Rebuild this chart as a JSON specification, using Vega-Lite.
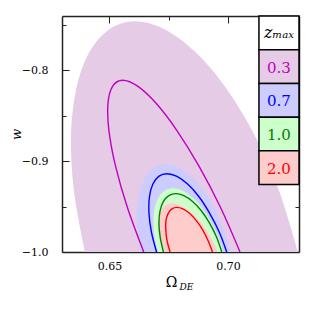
{
  "$schema": "https://vega.github.io/schema/vega-lite/v6.json",
  "width": 237,
  "height": 236,
  "autosize": "none",
  "padding": {"left": 62, "top": 16, "right": 16, "bottom": 63},
  "background": "white",
  "config": {
    "view": {"stroke": null},
    "font": "DejaVu Serif",
    "text": {"font": "DejaVu Serif"},
    "axis": {"grid": false, "domainColor": "#222", "domainWidth": 1.5, "tickColor": "#222", "tickWidth": 1, "labelFont": "DejaVu Serif", "labelFontSize": 11, "labelColor": "#000", "titleFont": "DejaVu Serif", "titleFontWeight": "normal", "titleColor": "#000", "zindex": 1}
  },
  "data": {"name": "c"},
  "datasets": {
    "c": [
      {"s":"0.3","k":"f","i":0,"x":0.7295,"y":-1},{"s":"0.3","k":"f","i":1,"x":0.7218,"y":-0.9342},{"s":"0.3","k":"f","i":2,"x":0.7116,"y":-0.8729},{"s":"0.3","k":"f","i":3,"x":0.6995,"y":-0.8203},{"s":"0.3","k":"f","i":4,"x":0.6864,"y":-0.7799},{"s":"0.3","k":"f","i":5,"x":0.6732,"y":-0.7545},{"s":"0.3","k":"f","i":6,"x":0.6608,"y":-0.7458},{"s":"0.3","k":"f","i":7,"x":0.6500,"y":-0.7545},{"s":"0.3","k":"f","i":8,"x":0.6415,"y":-0.7799},{"s":"0.3","k":"f","i":9,"x":0.6360,"y":-0.8203},{"s":"0.3","k":"f","i":10,"x":0.6338,"y":-0.8729},{"s":"0.3","k":"f","i":11,"x":0.6351,"y":-0.9342},{"s":"0.3","k":"f","i":12,"x":0.6397,"y":-1},
      {"s":"0.7","k":"f","i":0,"x":0.7009,"y":-1},{"s":"0.7","k":"f","i":1,"x":0.6981,"y":-0.9750},{"s":"0.7","k":"f","i":2,"x":0.6943,"y":-0.9517},{"s":"0.7","k":"f","i":3,"x":0.6896,"y":-0.9317},{"s":"0.7","k":"f","i":4,"x":0.6844,"y":-0.9163},{"s":"0.7","k":"f","i":5,"x":0.6790,"y":-0.9067},{"s":"0.7","k":"f","i":6,"x":0.6739,"y":-0.9034},{"s":"0.7","k":"f","i":7,"x":0.6693,"y":-0.9067},{"s":"0.7","k":"f","i":8,"x":0.6656,"y":-0.9163},{"s":"0.7","k":"f","i":9,"x":0.6630,"y":-0.9317},{"s":"0.7","k":"f","i":10,"x":0.6617,"y":-0.9517},{"s":"0.7","k":"f","i":11,"x":0.6618,"y":-0.9750},{"s":"0.7","k":"f","i":12,"x":0.6633,"y":-1},
      {"s":"1.0","k":"f","i":0,"x":0.6981,"y":-1},{"s":"1.0","k":"f","i":1,"x":0.6957,"y":-0.9818},{"s":"1.0","k":"f","i":2,"x":0.6925,"y":-0.9649},{"s":"1.0","k":"f","i":3,"x":0.6888,"y":-0.9504},{"s":"1.0","k":"f","i":4,"x":0.6847,"y":-0.9392},{"s":"1.0","k":"f","i":5,"x":0.6807,"y":-0.9322},{"s":"1.0","k":"f","i":6,"x":0.6768,"y":-0.9298},{"s":"1.0","k":"f","i":7,"x":0.6735,"y":-0.9322},{"s":"1.0","k":"f","i":8,"x":0.6709,"y":-0.9392},{"s":"1.0","k":"f","i":9,"x":0.6692,"y":-0.9504},{"s":"1.0","k":"f","i":10,"x":0.6686,"y":-0.9649},{"s":"1.0","k":"f","i":11,"x":0.6690,"y":-0.9818},{"s":"1.0","k":"f","i":12,"x":0.6705,"y":-1},
      {"s":"2.0","k":"f","i":0,"x":0.6958,"y":-1},{"s":"2.0","k":"f","i":1,"x":0.6933,"y":-0.9861},{"s":"2.0","k":"f","i":2,"x":0.6902,"y":-0.9732},{"s":"2.0","k":"f","i":3,"x":0.6867,"y":-0.9620},{"s":"2.0","k":"f","i":4,"x":0.6831,"y":-0.9535},{"s":"2.0","k":"f","i":5,"x":0.6795,"y":-0.9481},{"s":"2.0","k":"f","i":6,"x":0.6764,"y":-0.9463},{"s":"2.0","k":"f","i":7,"x":0.6738,"y":-0.9481},{"s":"2.0","k":"f","i":8,"x":0.6719,"y":-0.9535},{"s":"2.0","k":"f","i":9,"x":0.6709,"y":-0.9620},{"s":"2.0","k":"f","i":10,"x":0.6708,"y":-0.9732},{"s":"2.0","k":"f","i":11,"x":0.6717,"y":-0.9861},{"s":"2.0","k":"f","i":12,"x":0.6734,"y":-1},
      {"s":"0.3","k":"l","i":0,"x":0.7051,"y":-1},{"s":"0.3","k":"l","i":1,"x":0.6969,"y":-0.9510},{"s":"0.3","k":"l","i":2,"x":0.6878,"y":-0.9054},{"s":"0.3","k":"l","i":3,"x":0.6785,"y":-0.8662},{"s":"0.3","k":"l","i":4,"x":0.6697,"y":-0.8362},{"s":"0.3","k":"l","i":5,"x":0.6619,"y":-0.8173},{"s":"0.3","k":"l","i":6,"x":0.6556,"y":-0.8108},{"s":"0.3","k":"l","i":7,"x":0.6514,"y":-0.8173},{"s":"0.3","k":"l","i":8,"x":0.6494,"y":-0.8362},{"s":"0.3","k":"l","i":9,"x":0.6498,"y":-0.8662},{"s":"0.3","k":"l","i":10,"x":0.6526,"y":-0.9054},{"s":"0.3","k":"l","i":11,"x":0.6576,"y":-0.9510},{"s":"0.3","k":"l","i":12,"x":0.6645,"y":-1},
      {"s":"0.7","k":"l","i":0,"x":0.6995,"y":-1},{"s":"0.7","k":"l","i":1,"x":0.6963,"y":-0.9777},{"s":"0.7","k":"l","i":2,"x":0.6922,"y":-0.9569},{"s":"0.7","k":"l","i":3,"x":0.6878,"y":-0.9391},{"s":"0.7","k":"l","i":4,"x":0.6831,"y":-0.9254},{"s":"0.7","k":"l","i":5,"x":0.6785,"y":-0.9167},{"s":"0.7","k":"l","i":6,"x":0.6743,"y":-0.9138},{"s":"0.7","k":"l","i":7,"x":0.6708,"y":-0.9167},{"s":"0.7","k":"l","i":8,"x":0.6683,"y":-0.9254},{"s":"0.7","k":"l","i":9,"x":0.6669,"y":-0.9391},{"s":"0.7","k":"l","i":10,"x":0.6667,"y":-0.9569},{"s":"0.7","k":"l","i":11,"x":0.6677,"y":-0.9777},{"s":"0.7","k":"l","i":12,"x":0.6699,"y":-1},
      {"s":"1.0","k":"l","i":0,"x":0.6974,"y":-1},{"s":"1.0","k":"l","i":1,"x":0.6952,"y":-0.9834},{"s":"1.0","k":"l","i":2,"x":0.6922,"y":-0.9679},{"s":"1.0","k":"l","i":3,"x":0.6888,"y":-0.9545},{"s":"1.0","k":"l","i":4,"x":0.6851,"y":-0.9443},{"s":"1.0","k":"l","i":5,"x":0.6814,"y":-0.9379},{"s":"1.0","k":"l","i":6,"x":0.6780,"y":-0.9357},{"s":"1.0","k":"l","i":7,"x":0.6751,"y":-0.9379},{"s":"1.0","k":"l","i":8,"x":0.6728,"y":-0.9443},{"s":"1.0","k":"l","i":9,"x":0.6714,"y":-0.9545},{"s":"1.0","k":"l","i":10,"x":0.6709,"y":-0.9679},{"s":"1.0","k":"l","i":11,"x":0.6714,"y":-0.9834},{"s":"1.0","k":"l","i":12,"x":0.6728,"y":-1},
      {"s":"2.0","k":"l","i":0,"x":0.6935,"y":-1},{"s":"2.0","k":"l","i":1,"x":0.6916,"y":-0.9873},{"s":"2.0","k":"l","i":2,"x":0.6893,"y":-0.9754},{"s":"2.0","k":"l","i":3,"x":0.6866,"y":-0.9652},{"s":"2.0","k":"l","i":4,"x":0.6838,"y":-0.9574},{"s":"2.0","k":"l","i":5,"x":0.6810,"y":-0.9525},{"s":"2.0","k":"l","i":6,"x":0.6785,"y":-0.9508},{"s":"2.0","k":"l","i":7,"x":0.6764,"y":-0.9525},{"s":"2.0","k":"l","i":8,"x":0.6748,"y":-0.9574},{"s":"2.0","k":"l","i":9,"x":0.6739,"y":-0.9652},{"s":"2.0","k":"l","i":10,"x":0.6738,"y":-0.9754},{"s":"2.0","k":"l","i":11,"x":0.6743,"y":-0.9873},{"s":"2.0","k":"l","i":12,"x":0.6756,"y":-1}
    ],
    "t": [
      {"label": "zₘₐₓ"}, {"label": "0.3"}, {"label": "0.7"}, {"label": "1.0"}, {"label": "2.0"}
    ]
  },
  "layer": [
    {
      "transform": [{"filter": "datum.k == 'f' && datum.s == '0.3'"}],
      "mark": {"type": "line", "fill": "#e5cbe5", "strokeWidth": 0, "interpolate": "cardinal", "clip": true},
      "encoding": {
        "x": {"field": "x", "type": "quantitative", "scale": {"domain": [0.63, 0.73], "nice": false, "zero": false},
          "axis": {"orient": "bottom", "values": [0.65, 0.675, 0.7, 0.725],
            "labelExpr": "(datum.value < 0.66 || (datum.value > 0.69 && datum.value < 0.71)) ? format(datum.value, '.2f') : ''",
            "tickSize": {"condition": {"test": "(datum.value > 0.67 && datum.value < 0.68) || datum.value > 0.72", "value": -4}, "value": -7},
            "labelPadding": 15, "labelFlush": false, "labelFont": "DejaVu Serif", "labelFontSize": 11,
            "title": "Ω", "titleFont": "DejaVu Serif", "titleFontSize": 14, "titleX": 109, "titleY": 34, "titleAlign": "center", "titleBaseline": "alphabetic"}},
        "y": {"field": "y", "type": "quantitative", "scale": {"domain": [-1, -0.74], "nice": false, "zero": false},
          "axis": {"orient": "left", "values": [-1, -0.95, -0.9, -0.85, -0.8, -0.75],
            "labelExpr": "abs(datum.value * 10 - round(datum.value * 10)) < 0.1 ? format(datum.value, '.1f') : ''",
            "tickSize": {"condition": {"test": "abs(datum.value * 10 - round(datum.value * 10)) > 0.1", "value": -4}, "value": -7},
            "labelPadding": 21, "labelFlush": false, "labelFont": "DejaVu Serif", "labelFontSize": 11,
            "title": "w", "titleFont": "DejaVu Serif", "titleFontStyle": "italic", "titleFontSize": 13, "titleX": -42, "titleY": 118, "titleAlign": "center", "titleBaseline": "alphabetic", "titleAngle": -90}},
        "order": {"field": "i", "type": "quantitative"}
      }
    },
    {
      "transform": [{"filter": "datum.k == 'f' && datum.s == '0.7'"}],
      "mark": {"type": "line", "fill": "#ccccff", "strokeWidth": 0, "interpolate": "cardinal", "clip": true},
      "encoding": {
        "x": {"field": "x", "type": "quantitative", "scale": {"domain": [0.63, 0.73], "nice": false, "zero": false}, "axis": null},
        "y": {"field": "y", "type": "quantitative", "scale": {"domain": [-1, -0.74], "nice": false, "zero": false}, "axis": null},
        "order": {"field": "i", "type": "quantitative"}
      }
    },
    {
      "transform": [{"filter": "datum.k == 'f' && datum.s == '1.0'"}],
      "mark": {"type": "line", "fill": "#ccffcc", "strokeWidth": 0, "interpolate": "cardinal", "clip": true},
      "encoding": {
        "x": {"field": "x", "type": "quantitative", "scale": {"domain": [0.63, 0.73], "nice": false, "zero": false}, "axis": null},
        "y": {"field": "y", "type": "quantitative", "scale": {"domain": [-1, -0.74], "nice": false, "zero": false}, "axis": null},
        "order": {"field": "i", "type": "quantitative"}
      }
    },
    {
      "transform": [{"filter": "datum.k == 'f' && datum.s == '2.0'"}],
      "mark": {"type": "line", "fill": "#ffcccc", "strokeWidth": 0, "interpolate": "cardinal", "clip": true},
      "encoding": {
        "x": {"field": "x", "type": "quantitative", "scale": {"domain": [0.63, 0.73], "nice": false, "zero": false}, "axis": null},
        "y": {"field": "y", "type": "quantitative", "scale": {"domain": [-1, -0.74], "nice": false, "zero": false}, "axis": null},
        "order": {"field": "i", "type": "quantitative"}
      }
    },
    {
      "transform": [{"filter": "datum.k == 'l'"}],
      "mark": {"type": "line", "strokeWidth": 1.4, "interpolate": "cardinal", "clip": true},
      "encoding": {
        "x": {"field": "x", "type": "quantitative", "scale": {"domain": [0.63, 0.73], "nice": false, "zero": false},
          "axis": {"orient": "top", "values": [0.65, 0.675, 0.7, 0.725], "labels": false,
            "tickSize": {"condition": {"test": "(datum.value > 0.67 && datum.value < 0.68) || datum.value > 0.72", "value": -4}, "value": -7},
            "title": "DE", "titleFont": "DejaVu Serif", "titleFontStyle": "italic", "titleFontSize": 9, "titleX": 124, "titleY": 273, "titleAlign": "center", "titleBaseline": "alphabetic", "titleAngle": 0}},
        "y": {"field": "y", "type": "quantitative", "scale": {"domain": [-1, -0.74], "nice": false, "zero": false},
          "axis": {"orient": "right", "values": [-1, -0.95, -0.9, -0.85, -0.8, -0.75], "labels": false,
            "tickSize": {"condition": {"test": "abs(datum.value * 10 - round(datum.value * 10)) > 0.1", "value": -4}, "value": -7},
            "title": null}},
        "detail": {"field": "s", "type": "nominal"},
        "order": {"field": "i", "type": "quantitative"},
        "color": {"field": "s", "type": "nominal", "scale": {"domain": ["zₘₐₓ", "0.3", "0.7", "1.0", "2.0"], "range": ["#000000", "#c000c0", "#0000ff", "#008000", "#ff0000"]}, "legend": null}
      }
    },
    {
      "data": {"name": "t"},
      "mark": {"type": "rect", "stroke": "#000", "strokeWidth": 1.5},
      "encoding": {
        "x": {"datum": 0.7131, "type": "quantitative", "scale": {"domain": [0.63, 0.73], "nice": false, "zero": false}, "axis": null},
        "x2": {"datum": 0.73},
        "y": {"field": "label", "type": "nominal", "sort": null, "scale": {"type": "band", "domain": ["zₘₐₓ", "0.3", "0.7", "1.0", "2.0"], "paddingInner": 0, "paddingOuter": 1.344, "align": 0}, "axis": null},
        "fill": {"field": "label", "type": "nominal", "scale": {"domain": ["zₘₐₓ", "0.3", "0.7", "1.0", "2.0"], "range": ["#ffffff", "#e5cbe5", "#ccccff", "#ccffcc", "#ffcccc"]}, "legend": null}
      }
    },
    {
      "data": {"name": "t"},
      "transform": [{"filter": "datum.label != 'zₘₐₓ'"}],
      "mark": {"type": "text", "font": "DejaVu Serif", "fontSize": 15, "baseline": "middle", "align": "center", "dy": 1},
      "encoding": {
        "x": {"datum": 0.72155, "type": "quantitative", "scale": {"domain": [0.63, 0.73], "nice": false, "zero": false}, "axis": null},
        "y": {"field": "label", "type": "nominal", "sort": null, "band": 0.5, "scale": {"type": "band", "domain": ["zₘₐₓ", "0.3", "0.7", "1.0", "2.0"], "paddingInner": 0, "paddingOuter": 1.344, "align": 0}, "axis": null},
        "text": {"field": "label"},
        "color": {"field": "label", "type": "nominal", "scale": {"domain": ["zₘₐₓ", "0.3", "0.7", "1.0", "2.0"], "range": ["#000000", "#c000c0", "#0000ff", "#008000", "#ff0000"]}, "legend": null}
      }
    },
    {
      "data": {"name": "t"},
      "transform": [{"filter": "datum.label == 'zₘₐₓ'"}],
      "mark": {"type": "text", "font": "DejaVu Serif", "fontSize": 16, "fontStyle": "italic", "baseline": "middle", "align": "center", "color": "#000"},
      "encoding": {
        "x": {"datum": 0.72155, "type": "quantitative", "scale": {"domain": [0.63, 0.73], "nice": false, "zero": false}, "axis": null},
        "y": {"field": "label", "type": "nominal", "sort": null, "band": 0.5, "scale": {"type": "band", "domain": ["zₘₐₓ", "0.3", "0.7", "1.0", "2.0"], "paddingInner": 0, "paddingOuter": 1.344, "align": 0}, "axis": null},
        "text": {"field": "label"}
      }
    }
  ],
  "resolve": {"scale": {"y": "independent"}, "axis": {"x": "independent", "y": "independent"}}
}
